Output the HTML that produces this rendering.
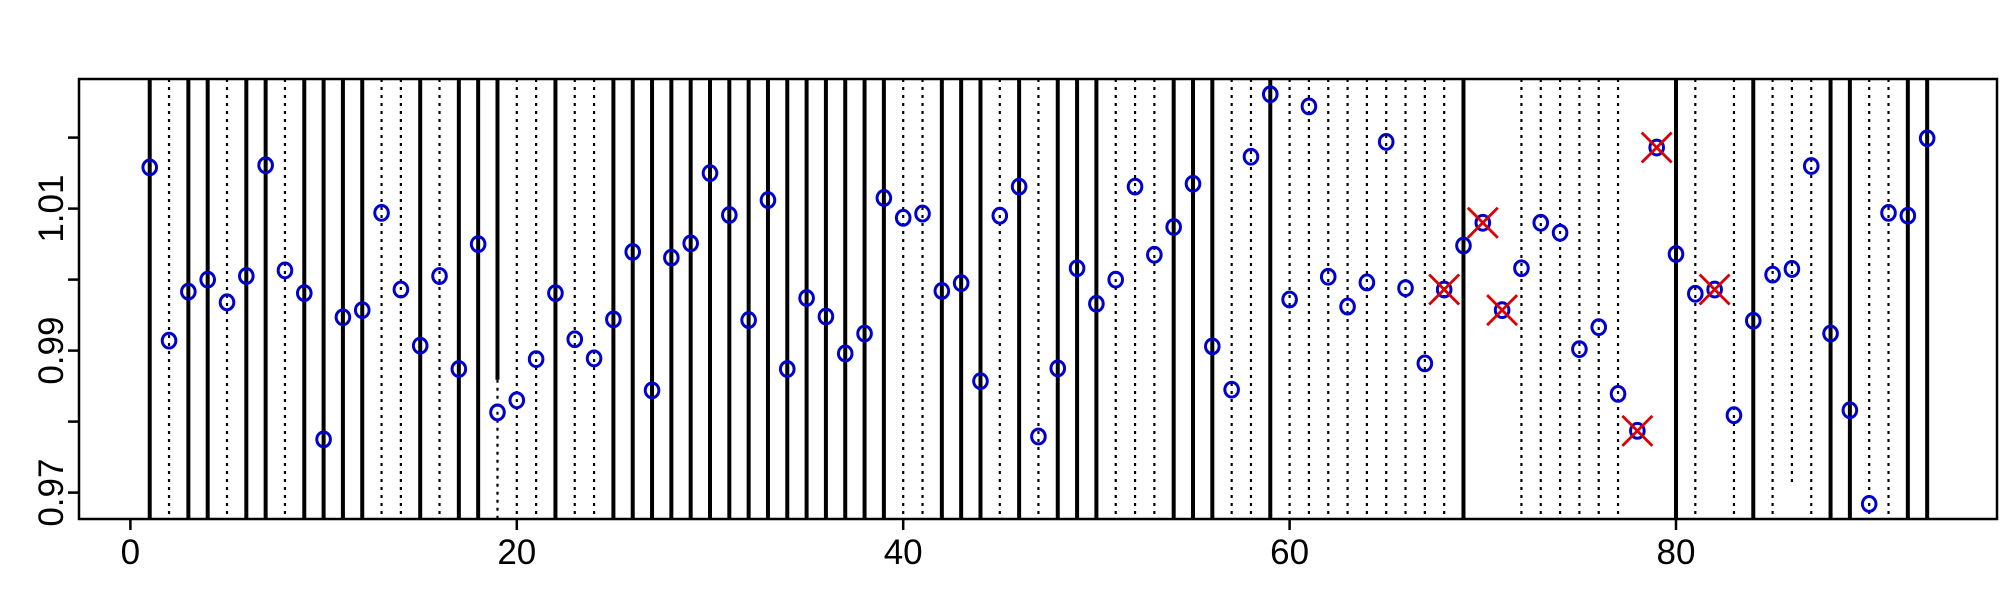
<!DOCTYPE html>
<html><head><meta charset="utf-8"><style>
html,body{margin:0;padding:0;background:#fff;}
svg{display:block;font-family:"Liberation Sans",Arial,sans-serif;}
</style></head><body>
<svg id="chart" width="2000" height="600" viewBox="0 0 2000 600" xmlns="http://www.w3.org/2000/svg">
<g id="lines"></g>
<g id="points"></g>
<g id="marks"></g>
<g id="axes"></g>
<rect x="79" y="79" width="1918" height="440" fill="none" stroke="#000" stroke-width="2.5"/>
</svg>
<script>
const values = [1.0158,0.9914,0.9983,1.0000,0.9968,1.0005,1.0161,1.0013,0.9981,0.9775,
0.9947,0.9957,1.0094,0.9986,0.9907,1.0005,0.9874,1.0050,0.9813,0.9830,
0.9888,0.9981,0.9916,0.9889,0.9944,1.0039,0.9844,1.0031,1.0051,1.0150,
1.0091,0.9943,1.0112,0.9874,0.9974,0.9948,0.9896,0.9924,1.0115,1.0087,
1.0093,0.9984,0.9995,0.9857,1.0090,1.0131,0.9779,0.9875,1.0016,0.9966,
1.0000,1.0131,1.0035,1.0074,1.0135,0.9906,0.9845,1.0173,1.0261,0.9972,
1.0244,1.0004,0.9962,0.9996,1.0194,0.9988,0.9882,0.9986,1.0048,1.0080,
0.9957,1.0016,1.0080,1.0066,0.9902,0.9933,0.9839,0.9787,1.0186,1.0036,
0.9980,0.9986,0.9809,0.9942,1.0007,1.0015,1.0160,0.9924,0.9816,0.9684,
1.0094,1.0090,1.0199];
// line type per index: s=solid, d=dotted, n=none
const lineTypes = "sdssdssdssssddsdsssddsddsssssssssssssssddsssdsdsssdddsssddsdddddddddsnnddddddnnsdndsdddssddss";
const flagged = [68,70,71,78,79,82];
const xTicks = [0,20,40,60,80];
const yTicks = [0.97,0.98,0.99,1.00,1.01,1.02];
const yLabels = ["0.97","","0.99","","1.01",""];
const splitIndex = 19, splitValue = 0.9859;   // solid above, dotted below
const partialIndex = 86, partialBottom = 0.9713; // dotted only above

const NS="http://www.w3.org/2000/svg";
const X0=130.4, XU=19.32, YTOP=79, YBOT=519;
const xs=i=>X0+i*XU;
const ys=v=>350.6-(v-0.99)*7100;
function mk(tag,attrs,parent){const e=document.createElementNS(NS,tag);for(const k in attrs)e.setAttribute(k,attrs[k]);parent.appendChild(e);return e;}
const gL=document.getElementById('lines'),gP=document.getElementById('points'),gM=document.getElementById('marks'),gA=document.getElementById('axes');
function vline(x,y1,y2,t,name){
  const a={x1:x,x2:x,y1:y1,y2:y2,stroke:'#000'};
  if(t==='s'){a['stroke-width']=4;}else{a['stroke-width']=2.2;a['stroke-dasharray']='3 5';}
  const l=mk('line',a,gL);
  
  
}
for(let i=1;i<=values.length;i++){
  const t=lineTypes[i-1];
  if(t==='n')continue;
  const x=xs(i);
  if(i===splitIndex){vline(x,YTOP,ys(splitValue),'s','line-'+i);vline(x,ys(splitValue),YBOT,'d','line-'+i+'-lower');}
  else if(i===partialIndex){vline(x,YTOP,ys(partialBottom),'d','line-'+i);}
  else vline(x,YTOP,YBOT,t,'line-'+i);
}
values.forEach((v,k)=>{
  const c=mk('ellipse',{cx:xs(k+1),cy:ys(v),rx:6.8,ry:7.4,fill:'none',stroke:'#0000cc','stroke-width':3},gP);
  
  
});
flagged.forEach(i=>{
  const x=xs(i),y=ys(values[i-1]),h=15;
  const p=mk('path',{d:`M${x-h},${y-h}L${x+h},${y+h}M${x-h},${y+h}L${x+h},${y-h}`,stroke:'#dd0000','stroke-width':2.8,fill:'none'},gM);
  
  
});
xTicks.forEach(t=>{
  const x=xs(t);
  const l=mk('line',{x1:x,x2:x,y1:YBOT,y2:YBOT+11,stroke:'#000','stroke-width':2.5},gA);
  
  
  const tx=mk('text',{x:x,y:564,'font-size':35,'text-anchor':'middle',fill:'#000'},gA);
  tx.textContent=t;
  
  
});
yTicks.forEach((t,k)=>{
  const y=ys(t);
  const l=mk('line',{x1:68,x2:79,y1:y,y2:y,stroke:'#000','stroke-width':2.5},gA);
  
  
  if(yLabels[k]){
    const tx=mk('text',{x:0,y:0,'font-size':35,'text-anchor':'middle',fill:'#000',transform:`translate(63,${y}) rotate(-90)`},gA);
    tx.textContent=yLabels[k];
    
    
  }
});
</script>
</body></html>
